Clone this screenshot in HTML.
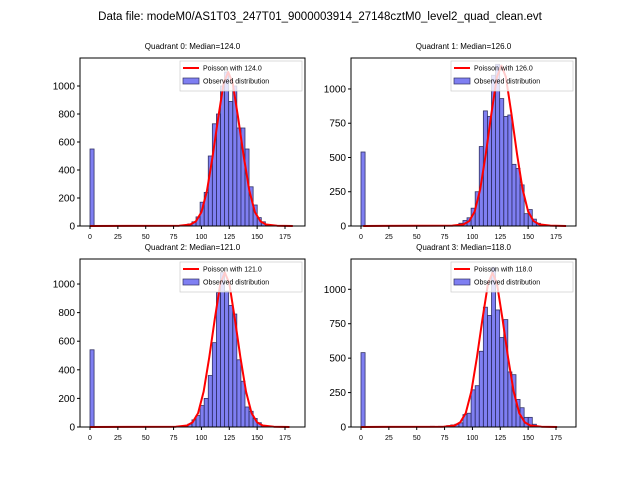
<!DOCTYPE html>
<html><head><meta charset="utf-8"><style>
body{margin:0;background:#fff;font-family:"Liberation Sans","DejaVu Sans",sans-serif}
svg{display:block}
</style></head><body>
<svg id="fig" width="640" height="480" viewBox="0 0 640 480" xmlns="http://www.w3.org/2000/svg">
<rect width="640" height="480" fill="#fff"/>
<text x="320" y="20" text-anchor="middle" font-size="11.5" fill="#000">Data file: modeM0/AS1T03_247T01_9000003914_27148cztM0_level2_quad_clean.evt</text>
</svg>
<script>
const medians=[124,126,121,118];
const countsQ0=[550,0,0,0,0,0,0,0,0,0,0,0,0,0,0,0,0,0,0,0,0,0,0,5,15,30,65,170,240,500,730,800,1000,1100,890,1000,700,700,550,280,150,60,30,10,5,0,0,0,0,0];
const countsQ1=[540,0,0,0,0,0,0,0,0,0,0,0,0,0,0,0,0,0,0,0,0,0,0,0,20,40,60,130,250,580,840,800,1100,1180,930,800,810,450,420,300,90,120,50,20,5,0,0,0,0,0];
const countsQ2=[540,0,0,0,0,0,0,0,0,0,0,0,0,0,0,0,0,0,0,0,0,0,5,10,20,50,80,150,200,360,590,940,1080,950,850,790,470,320,140,110,60,30,10,5,0,0,0,0,0,0];
const countsQ3=[540,0,0,0,0,0,0,0,0,0,0,0,0,0,0,0,0,5,0,5,0,10,15,20,30,90,100,270,300,550,870,810,1160,850,650,780,400,380,200,140,70,70,20,5,0,0,0,0,0,0];
const binWidth=3.66;
const curveOffsets=[-124,-44,-34,-29,-24,-19,-14,-9,-4,0,4,9,14,19,24,29,34,44,58];
const curveShape=[0,0.002,0.01,0.03,0.09,0.23,0.45,0.7,0.93,1,0.93,0.7,0.45,0.23,0.09,0.03,0.01,0.002,0];
const curvePeaks=[1100,1170,1080,1120];
const xTicks=[0,25,50,75,100,125,150,175];
const yTicksA=[0,200,400,600,800,1000];
const yTicksB=[0,250,500,750,1000];
const allCounts=[countsQ0,countsQ1,countsQ2,countsQ3];
const panels=[
 {x0:80,x1:305,y0:58,y1:226,ymax:1200,ticks:yTicksA},
 {x0:351,x1:576,y0:58,y1:226,ymax:1226,ticks:yTicksB},
 {x0:80,x1:305,y0:259,y1:427,ymax:1175,ticks:yTicksA},
 {x0:351,x1:576,y0:259,y1:427,ymax:1220,ticks:yTicksB}];
const NS="http://www.w3.org/2000/svg";
const fig=document.getElementById('fig');
function mk(t,a,p){const e=document.createElementNS(NS,t);for(const k in a)e.setAttribute(k,a[k]);(p||fig).appendChild(e);return e;}
panels.forEach((P,q)=>{
 const g=mk('g',{});
 
 
 const sx=v=>P.x0+10+(v)*(195/175);
 const sy=v=>P.y1-v*(P.y1-P.y0)/P.ymax;
 const counts=allCounts[q];
 counts.forEach((c,k)=>{if(c<=0)return;
  const r=mk('rect',{x:sx(k*binWidth),y:sy(c),width:sx(binWidth)-sx(0),height:P.y1-sy(c),fill:'rgba(0,0,230,0.5)',stroke:'#333366','stroke-width':0.8},g);
  
  });
 const pts=curveOffsets.map((o,i)=>{const xv=Math.max(0,medians[q]+o);return sx(xv)+','+sy(curveShape[i]*curvePeaks[q]);}).join(' ');
 const pl=mk('polyline',{points:pts,fill:'none',stroke:'red','stroke-width':2,'stroke-linejoin':'round'},g);
 
 
 const fr=mk('rect',{x:P.x0,y:P.y0,width:P.x1-P.x0,height:P.y1-P.y0,fill:'none',stroke:'#000','stroke-width':1},g);
 
 
 xTicks.forEach(t=>{mk('line',{x1:sx(t),x2:sx(t),y1:P.y1,y2:P.y1+3,stroke:'#000'},g);
  const tx=mk('text',{x:sx(t),y:P.y1+13,'font-size':7,'text-anchor':'middle'},g);tx.textContent=t;
  
  });
 P.ticks.forEach(t=>{mk('line',{x1:P.x0-3,x2:P.x0,y1:sy(t),y2:sy(t),stroke:'#000'},g);
  const tx=mk('text',{x:P.x0-5,y:sy(t)+3.5,'font-size':10,'text-anchor':'end'},g);tx.textContent=t;
  
  });
 const ti=mk('text',{x:(P.x0+P.x1)/2,y:P.y0-9,'font-size':8,'text-anchor':'middle'},g);
 ti.textContent='Quadrant '+q+': Median='+medians[q].toFixed(1);
 
 
 const lg=mk('g',{},g);
 
 
 const lx=P.x1-125;
 mk('rect',{x:lx,y:P.y0+3,width:122,height:30,fill:'rgba(255,255,255,0.8)',stroke:'#ccc','stroke-width':0.7},lg);
 mk('line',{x1:lx+3,x2:lx+19,y1:P.y0+10,y2:P.y0+10,stroke:'red','stroke-width':2},lg);
 mk('rect',{x:lx+3,y:P.y0+20,width:16,height:6,fill:'rgba(0,0,230,0.5)',stroke:'#333366','stroke-width':0.7},lg);
 const t1=mk('text',{x:lx+23,y:P.y0+12.5,'font-size':7},lg);t1.textContent='Poisson with '+medians[q].toFixed(1);
 
 
 const t2=mk('text',{x:lx+23,y:P.y0+25.5,'font-size':7},lg);t2.textContent='Observed distribution';
 
 
});
</script>
</body></html>
